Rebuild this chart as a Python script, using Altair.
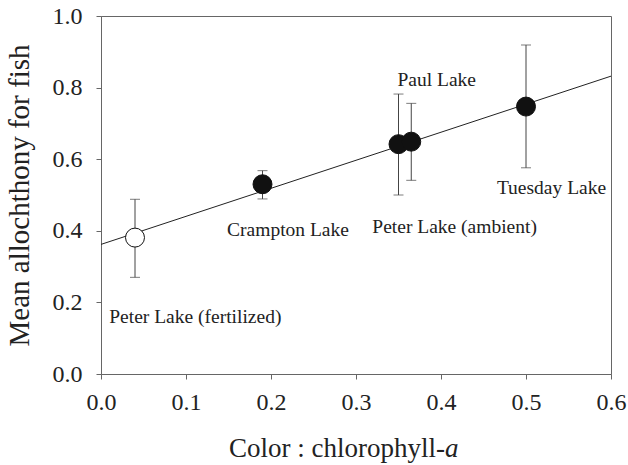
import altair as alt
import pandas as pd

lakes = ["Peter Lake (fertilized)", "Crampton Lake", "Peter Lake (ambient)", "Paul Lake", "Tuesday Lake"]
color_chla = [0.04, 0.19, 0.35, 0.365, 0.50]
allochthony = [0.381, 0.530, 0.642, 0.649, 0.747]
err_low = [0.270, 0.489, 0.500, 0.541, 0.576]
err_high = [0.488, 0.568, 0.782, 0.756, 0.919]
fertilized = [True, False, False, False, False]

label_x = [0.111, 0.22, 0.416, 0.395, 0.53]
label_y = [0.159, 0.402, 0.411, 0.821, 0.519]

fit_x = [0.0, 0.6]
fit_y = [0.362, 0.832]

x_title_main = "Color : chlorophyll-"
x_title_italic = "a"

df = pd.DataFrame({
    "lake": lakes, "x": color_chla, "y": allochthony,
    "lo": err_low, "hi": err_high,
    "kind": ["open" if f else "filled" for f in fertilized],
    "lx": label_x, "ly": label_y,
})
fit = pd.DataFrame({"x": fit_x, "y": fit_y})

FONT = "Liberation Serif"
xs = alt.Scale(domain=[0, 0.6], nice=False, zero=False)
ys = alt.Scale(domain=[0, 1.0], nice=False, zero=False)

xax = alt.Axis(values=[0, 0.1, 0.2, 0.3, 0.4, 0.5, 0.6], format=".1f",
               title=None, grid=False, labelFont=FONT, labelFontSize=24, labelPadding=11,
               labelFlush=False, labelOverlap=False)
yax = alt.Axis(values=[0, 0.2, 0.4, 0.6, 0.8, 1.0], format=".1f",
               title="Mean allochthony for fish", grid=False,
               labelFont=FONT, labelFontSize=24, labelPadding=14,
               labelFlush=False, labelOverlap=False,
               titleFont=FONT, titleFontSize=29, titlePadding=18)

line = alt.Chart(fit).mark_line(color="#222222", strokeWidth=1).encode(
    x=alt.X("x:Q", scale=xs, axis=xax),
    y=alt.Y("y:Q", scale=ys, axis=yax),
)

bars = alt.Chart(df).mark_rule(color="#444444", strokeWidth=1).encode(
    x="x:Q", y="lo:Q", y2="hi:Q"
)
cap_lo = alt.Chart(df).mark_tick(color="#444444", thickness=1, size=10, orient="horizontal").encode(
    x="x:Q", y="lo:Q"
)
cap_hi = alt.Chart(df).mark_tick(color="#444444", thickness=1, size=10, orient="horizontal").encode(
    x="x:Q", y="hi:Q"
)

pts = alt.Chart(df).mark_point(filled=False, size=360, strokeWidth=1, stroke="#111111", opacity=1).encode(
    x="x:Q", y="y:Q",
    fill=alt.Fill("kind:N", scale=alt.Scale(domain=["open", "filled"], range=["#ffffff", "#111111"]), legend=None),
)

labels = alt.Chart(df).mark_text(font=FONT, fontSize=19.5, color="#222222", align="center", baseline="middle").encode(
    x="lx:Q", y="ly:Q", text="lake:N"
)

title_df = pd.DataFrame({"t": [x_title_main]})
title_a_df = pd.DataFrame({"t": [x_title_italic]})
xtitle1 = alt.Chart(title_df).mark_text(font=FONT, fontSize=27, color="#222222", align="right",
                                        baseline="alphabetic").encode(
    x=alt.value(344), y=alt.value(441), text="t:N")
xtitle2 = alt.Chart(title_a_df).mark_text(font=FONT, fontSize=27, fontStyle="italic", color="#222222",
                                          align="left", baseline="alphabetic").encode(
    x=alt.value(344), y=alt.value(441), text="t:N")

chart = alt.layer(line, bars, cap_lo, cap_hi, pts, labels, xtitle1, xtitle2).properties(
    width=510, height=358,
    padding={"left": 101, "top": 16, "right": 17, "bottom": 91},
    autosize=alt.AutoSizeParams(type="none"),
).configure_view(
    stroke="#666666", strokeWidth=1
).configure_axis(
    domainColor="#666666", tickColor="#666666", tickSize=5,
    labelColor="#222222", titleColor="#222222", titleFontWeight="normal",
)

chart.save("out.html", embed_options={"renderer": "svg", "actions": False})
